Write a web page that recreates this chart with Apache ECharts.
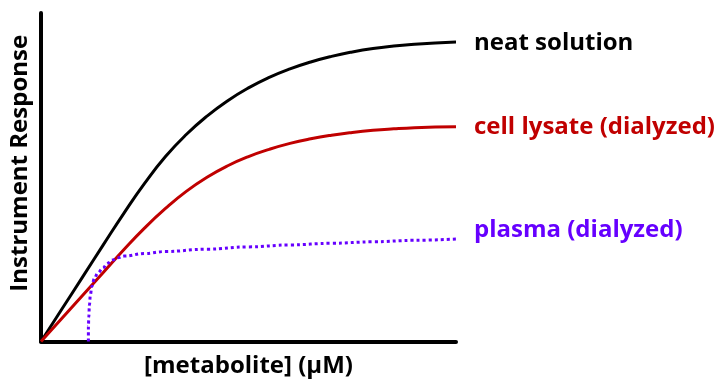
<!DOCTYPE html>
<html>
<head>
<meta charset="utf-8">
<script src="https://cdn.jsdelivr.net/npm/echarts@6/dist/echarts.min.js"></script>
<style>
html,body{margin:0;padding:0;background:#fff;}
#chart{width:720px;height:388px;}
</style>
</head>
<body>
<div id="chart"></div>
<script>
var xLabel = '[metabolite] (\u00b5M)';
var yLabel = 'Instrument Response';
var seriesNames = ['neat solution', 'cell lysate (dialyzed)', 'plasma (dialyzed)'];

var xCurve = [0, 5, 10, 15, 20, 25, 30, 35, 40, 45, 50, 55, 60, 65, 70, 75, 80, 85, 90, 95, 100];
var neatY   = [0, 9.8, 19.6, 29.4, 39.1, 48.2, 56.3, 63.0, 68.6, 73.3, 77.2, 80.4, 83.0, 85.1, 86.8, 88.15, 89.2, 89.95, 90.5, 90.9, 91.2];
var lysateY = [0, 7.0, 14.0, 21.0, 28.0, 34.6, 40.5, 45.7, 50.0, 53.5, 56.3, 58.5, 60.3, 61.7, 62.8, 63.65, 64.3, 64.75, 65.1, 65.28, 65.4];

var plasmaX = [11.42, 11.42, 11.52, 11.66, 11.9, 12.23, 12.86, 13.67, 14.86, 16.06, 17.25, 18.45, 20.0, 25, 30, 40, 50, 60, 70, 80, 90, 100];
var plasmaY = [0, 4.5, 7.5, 11.1, 14.2, 16.7, 19.2, 20.8, 22.3, 23.8, 24.8, 25.5, 26.0, 26.8, 27.4, 28.1, 28.8, 29.4, 29.9, 30.35, 30.8, 31.2];

function pairs(xs, ys) { return xs.map(function (x, i) { return [x, ys[i]]; }); }

var font = '"Open Sans", "Noto Sans", sans-serif';
var chart = echarts.init(document.getElementById('chart'), null, {renderer: 'canvas'});

function endLbl(color, dy) {
  return {
    show: true,
    formatter: '{a}',
    color: color,
    fontFamily: font,
    fontWeight: 'bold',
    fontSize: 24,
    distance: 0,
    offset: [18, dy]
  };
}

chart.setOption({
  animation: false,
  grid: {left: 37.5, right: 264, top: 13, bottom: 46.5},
  xAxis: {
    type: 'value', min: 0, max: 100,
    name: xLabel, nameLocation: 'middle', nameGap: 13,
    nameTextStyle: {color: '#000', fontFamily: font, fontWeight: 'bold', fontSize: 24},
    axisLine: {show: true, onZero: false, lineStyle: {color: '#000', width: 4}},
    axisTick: {show: false}, axisLabel: {show: false}, splitLine: {show: false}
  },
  yAxis: {
    type: 'value', min: 0, max: 100,
    name: yLabel, nameLocation: 'middle', nameGap: 9,
    nameTextStyle: {color: '#000', fontFamily: font, fontWeight: 'bold', fontSize: 24, padding: [0, 0, 0, 28]},
    axisLine: {show: true, onZero: false, lineStyle: {color: '#000', width: 4}},
    axisTick: {show: false}, axisLabel: {show: false}, splitLine: {show: false}
  },
  series: [
    {
      name: seriesNames[0], type: 'line', data: pairs(xCurve, neatY),
      smooth: 0.5, showSymbol: false, clip: false,
      lineStyle: {color: '#000000', width: 3},
      endLabel: endLbl('#000000', 1.5)
    },
    {
      name: seriesNames[1], type: 'line', data: pairs(xCurve, lysateY),
      smooth: 0.5, showSymbol: false, clip: false,
      lineStyle: {color: '#c00000', width: 3},
      endLabel: endLbl('#c00000', 0)
    },
    {
      name: seriesNames[2], type: 'line', data: pairs(plasmaX, plasmaY),
      smooth: 0.4, smoothMonotone: 'x', showSymbol: false, clip: false,
      lineStyle: {color: '#6600ff', width: 3, type: [3, 3], cap: 'butt'},
      endLabel: endLbl('#6600ff', -9)
    }
  ]
});
</script>
</body>
</html>
